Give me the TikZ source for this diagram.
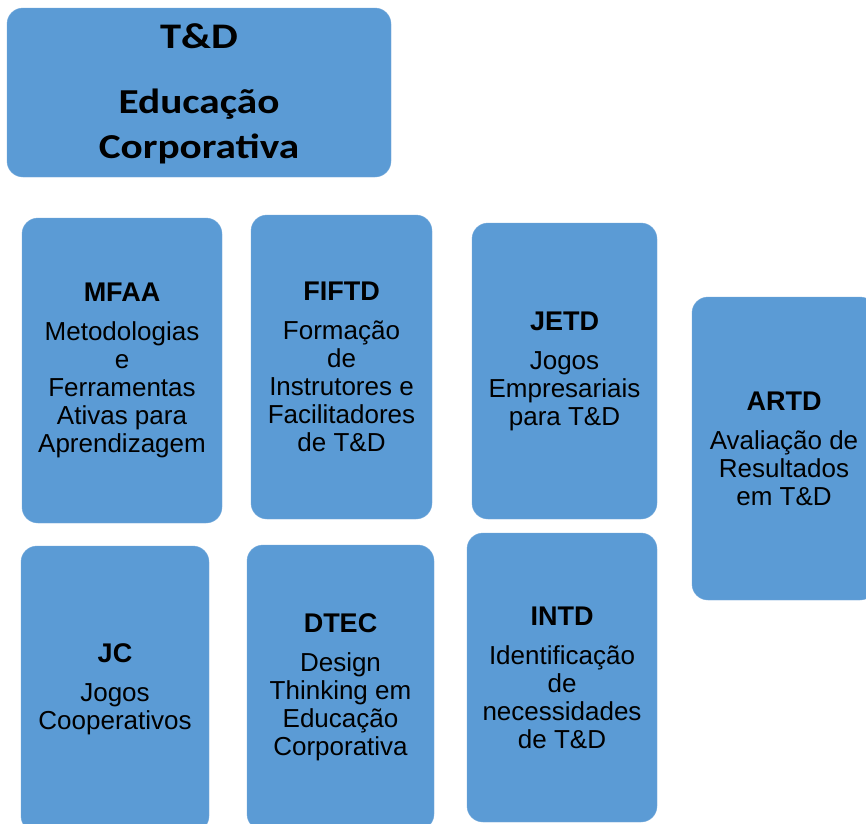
\documentclass[tikz,border=0pt]{standalone}
\usepackage{fontspec}
\setmainfont{Liberation Sans}
\newfontfamily\titlefont[FakeStretch=1.18]{Carlito}
\usepackage{tikz}
\usetikzlibrary{positioning}
\definecolor{boxblue}{HTML}{5B9BD5}

\begin{document}
\begin{tikzpicture}[x=1pt,y=-1pt,
    tdbox/.style={fill=boxblue,draw=boxblue!85!white,rounded corners=16pt,
      align=center,inner sep=0pt,font=\fontsize{26}{28}\selectfont}]
  \clip (0,0) rectangle (866,823);
  \fill[white] (0,0) rectangle (866,823);
  % title box
  \node[tdbox,minimum width=384,minimum height=169,font=\titlefont\bfseries\fontsize{35}{45}\selectfont] (top) at (199,92.5)
    {\rule{0pt}{28pt}\fontsize{36}{45}\selectfont T\&D\\[20pt] Educação\\ Corporativa};
  % first row
  \node[tdbox,minimum width=200,minimum height=305] (mfaa) at (122,370.5)
    {\textbf{\fontsize{27}{28}\selectfont MFAA}\\[11pt] Metodologias\\ e\\ Ferramentas\\ Ativas para\\ Aprendizagem};
  \node[tdbox,minimum width=181,minimum height=304] (fiftd) at (341.5,367)
    {\textbf{\fontsize{27}{28}\selectfont FIFTD}\\[11pt] Formação\\ de\\ Instrutores e\\ Facilitadores\\ de T\&D};
  \node[tdbox,minimum width=185,minimum height=296] (jetd) at (564.5,371)
    {\textbf{\fontsize{27}{28}\selectfont JETD}\\[11pt] Jogos\\ Empresariais\\ para T\&D};
  \node[tdbox,minimum width=184,minimum height=303] (artd) at (784,448.5)
    {\textbf{\fontsize{27}{28}\selectfont ARTD}\\[11pt] Avaliação de\\ Resultados\\ em T\&D};
  % second row
  \node[tdbox,minimum width=188,minimum height=286] (jc) at (115,689)
    {\textbf{\fontsize{27}{28}\selectfont JC}\\[11pt] Jogos\\ Cooperativos};
  \node[tdbox,minimum width=187,minimum height=285] (dtec) at (340.5,687.5)
    {\textbf{\fontsize{27}{28}\selectfont DTEC}\\[11pt] Design\\ Thinking em\\ Educação\\ Corporativa};
  \node[tdbox,minimum width=190,minimum height=289] (intd) at (562,677.5)
    {\textbf{\fontsize{27}{28}\selectfont INTD}\\[11pt] Identificação\\ de\\ necessidades\\ de T\&D};
\end{tikzpicture}
\end{document}
